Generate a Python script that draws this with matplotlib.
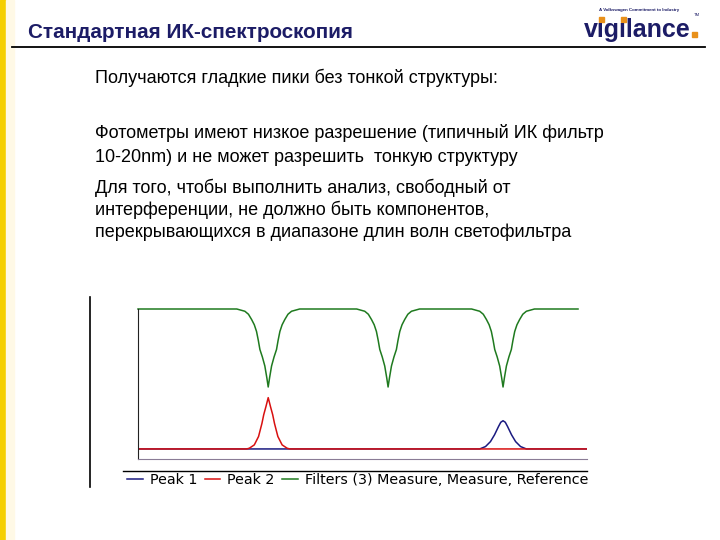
import matplotlib
matplotlib.use("Agg")
import matplotlib.pyplot as plt
from matplotlib.lines import Line2D
from matplotlib.patches import Rectangle

plt.rcParams['font.family'] = ['Liberation Sans', 'DejaVu Sans']

# slide texts
title = "Стандартная ИК-спектроскопия"
body_lines = [
    ("Получаются гладкие пики без тонкой структуры:", 78),
    ("Фотометры имеют низкое разрешение (типичный ИК фильтр", 133),
    ("10-20nm) и не может разрешить  тонкую структуру", 157),
    ("Для того, чтобы выполнить анализ, свободный от", 188),
    ("интерференции, не должно быть компонентов,", 210),
    ("перекрывающихся в диапазоне длин волн светофильтра", 232),
]
legend_labels = ["Peak 1", "Peak 2", "Filters (3) Measure, Measure, Reference"]

# filter transmission (green), three dips
dip_profile = [100, 98.5, 96.5, 93, 89.5, 85, 79, 73, 68, 62, 54, 48,
               54, 62, 68, 73, 79, 85, 89.5, 93, 96.5, 98.5, 100]
dip1_x = [22.0, 23.8, 24.6, 25.3, 25.9, 26.4, 26.8, 27.15, 27.7, 28.25, 28.7, 29.0,
          29.3, 29.75, 30.3, 30.85, 31.2, 31.6, 32.1, 32.7, 33.4, 34.2, 36.0]
dip2_x = [48.7, 50.5, 51.3, 52.0, 52.6, 53.1, 53.5, 53.85, 54.4, 54.95, 55.4, 55.7,
          56.0, 56.45, 57.0, 57.55, 57.9, 58.3, 58.8, 59.4, 60.1, 60.9, 62.7]
dip3_x = [74.3, 76.1, 76.9, 77.6, 78.2, 78.7, 79.1, 79.45, 80.0, 80.55, 81.0, 81.3,
          81.6, 82.05, 82.6, 83.15, 83.5, 83.9, 84.4, 85.0, 85.7, 86.5, 88.3]
green_x = [0] + dip1_x + dip2_x + dip3_x + [98]
green_y = [100] + dip_profile * 3 + [100]

# peak 2 (red)
red_x = [0, 24.2, 24.8, 25.9, 26.85, 27.6, 28.0, 28.5, 29.0, 29.5, 30.0, 30.4,
         31.15, 32.1, 33.2, 33.8, 100]
red_y = [6.7, 6.7, 7.2, 9.4, 15, 23.7, 29.5, 35, 40.9, 35, 29.5, 23.7,
         15, 9.4, 7.2, 6.7, 6.7]

# peak 1 (blue)
blue_x = [0, 76.1, 77.4, 78.5, 79.4, 80.3, 80.8, 81.3, 81.8, 82.3, 83.2, 84.1,
          85.2, 86.5, 100]
blue_y = [6.7, 6.7, 8.3, 11.6, 16.1, 21.7, 24.5, 25.5, 24.5, 21.7, 16.1, 11.6,
          8.3, 6.7, 6.7]

W, H = 720, 540
navy = "#1c1c66"
orange = "#E8901A"


def fx(px):
    return px / W


def fy(py):
    return 1 - py / H


fig = plt.figure(figsize=(7.2, 5.4), dpi=100)
fig.patch.set_facecolor("white")

# left yellow band
fig.patches.append(Rectangle((0, 0), fx(6), 1, transform=fig.transFigure,
                             color="#F5CF00", zorder=0))
fig.patches.append(Rectangle((fx(6), 0), fx(8), 1, transform=fig.transFigure,
                             color="#FFF9E6", zorder=0))

# header
fig.text(fx(28), fy(33), title, fontsize=14.9, fontweight="bold", color=navy,
         va="center", ha="left")
fig.add_artist(Line2D([fx(12), fx(705)], [fy(47), fy(47)], color="black", lw=1.3))

# logo: word with dotless i's, orange squares for the dots and the full stop
fig.text(fx(639), fy(10), "A Volkswagen Commitment to Industry", fontsize=3.2,
         color=navy, ha="center", va="center", fontweight="bold")
logo = fig.text(fx(584), fy(37), "v\u0131g\u0131lance", fontsize=18,
                fontweight="bold", color=navy, ha="left", va="baseline")
renderer = fig.canvas.get_renderer()
x_left = logo.get_window_extent(renderer).x0
for prefix in ["v", "v\u0131g"]:
    tmp = fig.text(0, 0, prefix, fontsize=18, fontweight="bold")
    w_pre = tmp.get_window_extent(renderer).width
    tmp.set_text(prefix + "\u0131")
    w_i = tmp.get_window_extent(renderer).width - w_pre
    tmp.remove()
    cx = x_left + w_pre + w_i / 2
    fig.patches.append(Rectangle((fx(cx - 2.5), fy(22)), fx(5), fx(5) * W / H,
                                 transform=fig.transFigure, color=orange))
x_right = logo.get_window_extent(renderer).x1
fig.patches.append(Rectangle((fx(x_right + 1), fy(37)), fx(5), fx(5) * W / H,
                             transform=fig.transFigure, color=orange))
fig.text(fx(694), fy(15), "TM", fontsize=3, color=navy, ha="left", va="center")

# body
for txt, ypx in body_lines:
    fig.text(fx(95), fy(ypx), txt, fontsize=13, color="black",
             ha="left", va="center")

# separator line left of the chart
fig.add_artist(Line2D([fx(90), fx(90)], [fy(297), fy(487)], color="black", lw=1.2))

# chart
ax = fig.add_axes([fx(138), fy(459), fx(587) - fx(138), fy(309) - fy(459)])
b, = ax.plot(blue_x, blue_y, color="#1a1a80", lw=1.1)
r, = ax.plot(red_x, red_y, color="#d81010", lw=1.1)
g, = ax.plot(green_x, green_y, color="#1f7a1f", lw=1.1, clip_on=False)
ax.set_xlim(0, 100)
ax.set_ylim(0, 100)
ax.set_xticks([])
ax.set_yticks([])
ax.spines["top"].set_visible(False)
ax.spines["right"].set_visible(False)
ax.spines["left"].set_color("#222222")
ax.spines["bottom"].set_color("#8a7c96")
ax.patch.set_alpha(0)

# legend with rule above it
fig.add_artist(Line2D([fx(123), fx(587)], [fy(471), fy(471)], color="black", lw=1.0))
ax.legend([b, r, g], legend_labels, ncol=3, loc="center left",
          bbox_to_anchor=(fx(127), fy(480)), bbox_transform=fig.transFigure,
          frameon=False, handlelength=1.1, handletextpad=0.5, columnspacing=0.5,
          borderpad=0, borderaxespad=0,
          prop={"family": "DejaVu Sans", "size": 10.3})

fig.savefig("out.png", dpi=100)
